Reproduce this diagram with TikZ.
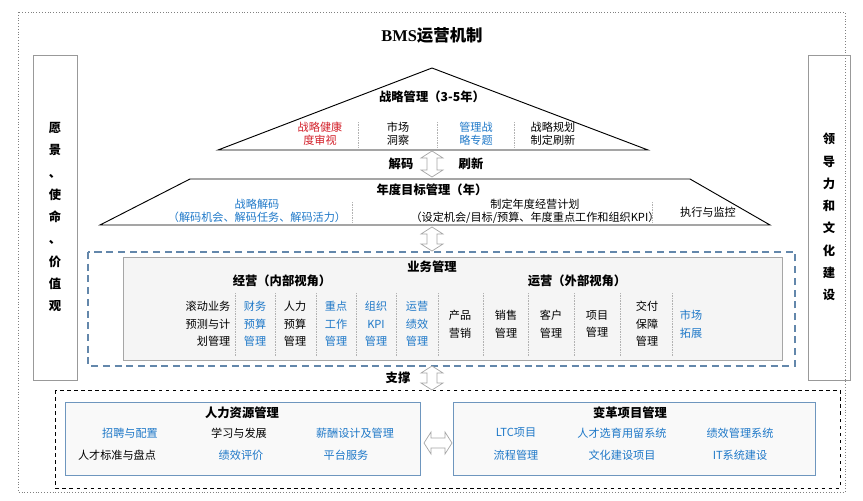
\documentclass[tikz,border=0pt]{standalone}
\usepackage{fontspec}
\setmainfont{Noto Sans CJK SC}
\newfontfamily\titlefont{Liberation Serif}
\usetikzlibrary{positioning}
\definecolor{bmsblue}{RGB}{30,120,200}
\definecolor{bmsred}{RGB}{210,30,40}
\definecolor{boxline}{RGB}{110,150,190}
\tikzset{
  txt/.style={font=\fontsize{9.5}{11}\selectfont, align=center, inner sep=1pt},
  btxt/.style={txt, text=bmsblue},
  rtxt/.style={txt, text=bmsred},
  head/.style={font=\fontsize{10.5}{12}\selectfont\bfseries, inner sep=1pt},
  vtxt/.style={font=\fontsize{10.5}{19}\selectfont\bfseries, align=center, inner sep=1pt},
  sep/.style={gray!60, densely dotted},
  hollow/.style={draw=gray!70, fill=white, line width=0.6pt},
}
% hollow double arrow, vertical: x, y-top, y-bottom
\newcommand\vdarrow[3]{%
  \draw[hollow] (#1,#2) -- (#1+11,#2+7) -- (#1+5,#2+7) -- (#1+5,#3-7) -- (#1+11,#3-7)
    -- (#1,#3) -- (#1-11,#3-7) -- (#1-5,#3-7) -- (#1-5,#2+7) -- (#1-11,#2+7) -- cycle;}
\newcommand\hdarrow[3]{%
  \draw[hollow] (#2,#1) -- (#2+7,#1-11) -- (#2+7,#1-5) -- (#3-7,#1-5) -- (#3-7,#1-11)
    -- (#3,#1) -- (#3-7,#1+11) -- (#3-7,#1+5) -- (#2+7,#1+5) -- (#2+7,#1+11) -- cycle;}
\begin{document}
\begin{tikzpicture}[x=0.03cm,y=-0.03cm]

\useasboundingbox (0,0) rectangle (863,500);
\draw[gray, dotted] (18,12) rectangle (845,492);

\node[font=\fontsize{14}{16}\selectfont\bfseries] (title) at (432,35) {{\titlefont BMS}运营机制};

% side boxes
\draw[gray!80, thick] (33,55) rectangle (77,380);
\node[vtxt] (vision) at (55,217) {愿\\景\\、\\使\\命\\、\\价\\值\\观};
\draw[gray!80, thick] (808,55) rectangle (850,380);
\node[vtxt] (lead) at (829,217) {领\\导\\力\\和\\文\\化\\建\\设};

% strategy triangle
\draw[thick] (218,150) -- (432,68) -- (648,150) -- cycle;
\node[head] (strat) at (432,97) {战略管理（3-5年）};
\node[rtxt] (s1) at (320,134) {战略健康\\度审视};
\node[txt]  (s2) at (398,134) {市场\\洞察};
\node[btxt] (s3) at (476,134) {管理战\\略专题};
\node[txt]  (s4) at (553,134) {战略规划\\制定刷新};
\foreach \x in {358,437,514} \draw[sep] (\x,122) -- (\x,147);

\vdarrow{432}{151}{177}
\node[head] (dec) at (401,164) {解码};
\node[head] (ref) at (471,164) {刷新};

% annual trapezoid
\draw[thick] (100,225) -- (190,179) -- (690,179) -- (770,225) -- cycle;
\node[head] (annual) at (432,190) {年度目标管理（年）};
\node[btxt] (a1) at (257,211) {战略解码\\（解码机会、解码任务、解码活力）};
\node[txt]  (a2) at (535,211) {制定年度经营计划\\（设定机会/目标/预算、年度重点工作和组织KPI）};
\node[txt]  (a3) at (708,212) {执行与监控};
\foreach \x in {352,652} \draw[sep] (\x,202) -- (\x,222);

\vdarrow{432}{227}{251}

% business management
\draw[boxline!90!black, line width=1.2pt, dash pattern=on 6pt off 4pt] (88,252) rectangle (795,366);
\draw[gray!70, fill=gray!8] (123,257) rectangle (782,360);
\node[head] (biz) at (432,267) {业务管理};
\node[head] (inner) at (282,281) {经营（内部视角）};
\node[head] (outer) at (577,281) {运营（外部视角）};
\node[txt, align=right] (i1) at (208,324) {滚动业务\\[4pt]预测与计\\[4pt]划管理};
\node[btxt] (i2) at (255,324) {财务\\[4pt]预算\\[4pt]管理};
\node[txt]  (i3) at (295,324) {人力\\[4pt]预算\\[4pt]管理};
\node[btxt] (i4) at (336,324) {重点\\[4pt]工作\\[4pt]管理};
\node[btxt] (i5) at (376,324) {组织\\[4pt]KPI\\[4pt]管理};
\node[btxt] (i6) at (417,324) {运营\\[4pt]绩效\\[4pt]管理};
\node[txt]  (o1) at (460,324) {产品\\[4pt]营销};
\node[txt]  (o2) at (506,324) {销售\\[4pt]管理};
\node[txt]  (o3) at (551,324) {客户\\[4pt]管理};
\node[txt]  (o4) at (597,324) {项目\\[4pt]管理};
\node[txt]  (o5) at (647,324) {交付\\[4pt]保障\\[4pt]管理};
\node[btxt] (o6) at (691,324) {市场\\[4pt]拓展};
\foreach \x in {235,275,316,356,396,438,483,528,574,620,672} \draw[sep] (\x,293) -- (\x,356);

\vdarrow{432}{366}{390}
\node[head] (sup) at (398,378) {支撑};

% support layer
\draw[thick, dashed] (55,390) rectangle (840,488);
\draw[boxline, fill=gray!5] (65,402) rectangle (420,475);
\node[head] (hr) at (242,413) {人力资源管理};
\node[btxt] (h1) at (130,433) {招聘与配置};
\node[txt]  (h2) at (239,433) {学习与发展};
\node[btxt] (h3) at (355,433) {薪酬设计及管理};
\node[txt]  (h4) at (117,455) {人才标准与盘点};
\node[btxt] (h5) at (241,455) {绩效评价};
\node[btxt] (h6) at (346,455) {平台服务};

\hdarrow{443}{424}{452}

\draw[boxline, fill=gray!5] (453,402) rectangle (815,475);
\node[head] (chg) at (630,413) {变革项目管理};
\node[btxt] (c1) at (516,433) {LTC项目};
\node[btxt] (c2) at (622,433) {人才选育用留系统};
\node[btxt] (c3) at (740,433) {绩效管理系统};
\node[btxt] (c4) at (516,455) {流程管理};
\node[btxt] (c5) at (622,455) {文化建设项目};
\node[btxt] (c6) at (740,455) {IT系统建设};

\end{tikzpicture}
\end{document}
